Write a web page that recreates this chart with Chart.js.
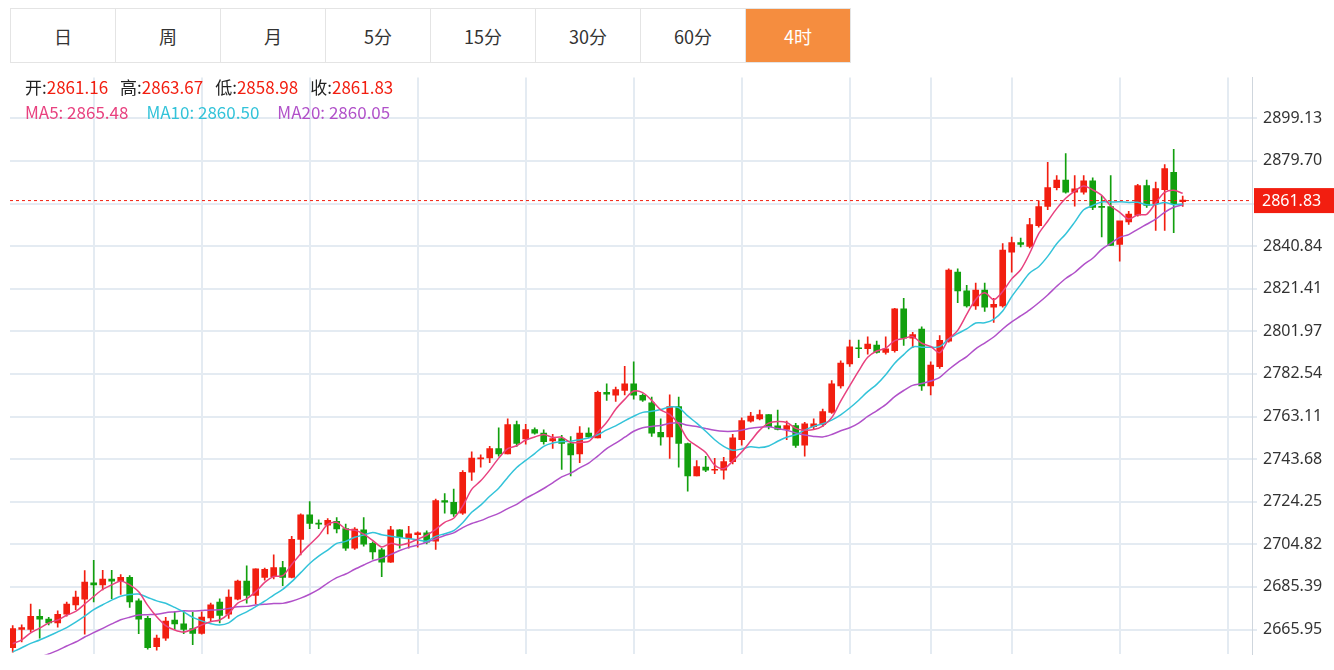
<!DOCTYPE html>
<html><head><meta charset="utf-8">
<script src="https://cdn.jsdelivr.net/npm/chart.js@4/dist/chart.umd.min.js"></script>
<style>
body{margin:0;width:1334px;height:670px;overflow:hidden;background:#fff;font-family:"Noto Sans CJK SC","Noto Sans",sans-serif;}
#tabs{position:absolute;left:10px;top:8px;height:53px;display:flex;border:1px solid #e4e4e4;border-right:none;}
#tabs div{width:104px;height:53px;border-right:1px solid #e4e4e4;display:flex;align-items:center;justify-content:center;font-size:18px;color:#333;}
#tabs div.on{background:#f58d3f;color:#fff;}
#wrap{position:absolute;left:10px;top:62px;width:1324px;height:608px;}
#info{position:absolute;left:25px;top:74px;font-size:17px;line-height:25px;color:#222;}
#info .v{color:#f21e10;margin-right:12px;}
</style></head><body>
<div id="tabs"></div>
<div id="wrap"><canvas id="c" width="1324" height="608"></canvas></div>
<div id="info"></div>
<script>
const tabs=["日","周","月","5分","15分","30分","60分","4时"];
const activeTab="4时";
const opens=[2657.7,2666.0,2666.0,2672.0,2670.7,2669.0,2672.9,2677.2,2679.8,2687.2,2686.3,2688.9,2688.0,2689.8,2679.0,2671.0,2658.1,2662.0,2670.2,2668.5,2666.4,2664.2,2671.2,2678.5,2672.9,2679.8,2688.0,2681.5,2689.7,2690.0,2694.2,2689.7,2707.0,2718.3,2714.4,2713.5,2715.3,2712.0,2703.1,2711.4,2705.3,2702.3,2696.7,2711.4,2707.5,2709.2,2710.1,2706.2,2724.8,2724.0,2719.0,2737.7,2743.8,2744.2,2748.5,2746.0,2759.4,2752.9,2757.2,2755.5,2752.0,2753.0,2750.8,2746.0,2755.5,2753.4,2774.1,2772.8,2775.0,2778.0,2772.8,2769.3,2755.9,2753.8,2767.6,2750.8,2736.0,2740.0,2738.6,2738.6,2742.5,2752.5,2761.0,2762.0,2764.0,2758.9,2757.2,2759.0,2750.0,2758.5,2759.4,2765.0,2777.1,2787.1,2794.4,2794.0,2795.7,2792.3,2793.1,2812.2,2798.8,2803.0,2777.1,2785.8,2797.5,2829.0,2820.4,2813.5,2820.8,2813.0,2813.5,2838.1,2842.4,2840.7,2850.2,2858.9,2867.5,2871.0,2865.4,2865.4,2870.6,2859.0,2858.9,2841.6,2851.9,2855.0,2868.4,2860.2,2866.6,2874.5,2861.16];
const highs=[2667.7,2668.1,2677.6,2675.0,2671.5,2674.5,2678.5,2683.5,2692.8,2697.5,2693.0,2693.0,2691.0,2690.5,2680.0,2672.0,2663.4,2671.5,2674.0,2674.5,2673.8,2674.0,2678.0,2680.0,2684.0,2688.5,2695.0,2693.6,2694.0,2700.0,2697.0,2708.5,2718.7,2724.3,2716.0,2716.6,2717.0,2714.0,2712.5,2717.0,2706.0,2703.0,2713.0,2711.5,2713.0,2710.5,2711.0,2725.5,2728.0,2730.0,2738.5,2747.0,2745.6,2749.5,2758.0,2762.0,2761.0,2759.5,2758.0,2757.0,2755.0,2754.5,2754.0,2758.5,2758.0,2774.7,2778.0,2776.5,2786.0,2788.0,2773.5,2772.0,2762.0,2773.0,2772.0,2751.0,2743.0,2745.0,2744.0,2744.5,2755.0,2762.5,2765.0,2766.0,2764.0,2766.0,2761.0,2760.0,2760.5,2762.0,2766.5,2779.5,2788.5,2798.0,2798.0,2799.5,2797.5,2799.5,2812.5,2817.0,2801.5,2804.0,2788.0,2800.0,2830.5,2830.5,2823.0,2824.0,2824.0,2817.0,2842.0,2845.0,2844.5,2853.5,2861.5,2879.0,2873.0,2883.0,2873.0,2873.0,2872.0,2863.5,2873.0,2848.0,2856.7,2869.0,2871.0,2870.0,2878.0,2885.0,2863.67];
const lows=[2655.6,2660.3,2664.7,2662.0,2668.0,2667.0,2672.0,2675.0,2663.8,2678.5,2684.0,2680.0,2682.0,2676.0,2664.0,2657.0,2656.5,2661.0,2666.0,2664.0,2659.0,2663.8,2670.0,2669.0,2671.0,2679.4,2678.0,2677.6,2688.5,2689.0,2686.0,2689.5,2700.0,2712.0,2712.0,2709.6,2710.0,2702.0,2702.5,2704.0,2698.0,2690.0,2696.5,2703.1,2703.0,2703.5,2705.0,2702.5,2719.0,2717.5,2718.5,2734.0,2740.0,2742.0,2745.0,2746.0,2749.5,2750.5,2755.0,2750.5,2748.5,2739.0,2736.0,2742.0,2753.5,2753.4,2770.5,2770.0,2773.0,2771.0,2770.0,2754.0,2750.0,2744.0,2740.0,2729.0,2736.0,2738.0,2737.0,2734.5,2741.5,2750.0,2760.5,2761.5,2757.5,2757.0,2752.5,2749.0,2745.0,2757.5,2758.5,2764.5,2776.0,2786.0,2790.0,2791.5,2792.0,2791.5,2792.5,2795.5,2794.5,2775.0,2773.0,2785.0,2797.0,2815.0,2813.0,2812.0,2811.0,2806.0,2813.0,2829.0,2840.5,2840.0,2849.5,2857.5,2866.5,2865.0,2859.0,2864.5,2857.5,2845.0,2841.2,2834.0,2850.7,2854.5,2858.5,2848.0,2848.0,2847.0,2858.98];
const closes=[2666.4,2666.8,2672.0,2670.7,2669.0,2672.9,2677.6,2680.7,2687.6,2686.3,2688.9,2688.0,2689.8,2678.5,2670.7,2657.7,2662.0,2669.8,2668.5,2666.0,2664.2,2671.6,2677.2,2672.4,2680.7,2688.0,2681.5,2693.6,2693.4,2694.2,2689.7,2707.1,2718.3,2714.4,2714.0,2715.7,2711.8,2703.1,2711.8,2704.9,2701.4,2696.7,2711.4,2707.9,2709.6,2710.1,2705.8,2724.8,2724.0,2718.7,2737.7,2744.2,2744.2,2748.5,2746.0,2759.4,2750.8,2757.2,2755.5,2751.6,2753.0,2750.8,2745.6,2755.5,2753.8,2774.1,2773.3,2775.4,2778.0,2772.8,2770.6,2755.5,2753.8,2767.6,2750.8,2736.0,2740.3,2738.6,2739.0,2742.5,2753.4,2761.3,2763.3,2764.0,2758.5,2757.2,2759.0,2749.9,2759.8,2759.8,2765.4,2778.0,2787.5,2794.9,2794.0,2796.2,2792.3,2794.0,2812.2,2798.8,2800.5,2777.1,2786.6,2797.9,2829.9,2820.4,2813.5,2820.8,2813.0,2814.3,2839.0,2842.4,2841.6,2850.6,2858.9,2867.5,2871.0,2865.4,2867.0,2870.6,2858.5,2858.5,2841.2,2852.4,2855.4,2868.4,2859.4,2867.1,2876.2,2860.2,2861.83];
const prevCloses=[2628,2632,2630,2636,2640,2638,2644,2642,2646,2650,2648,2652,2655,2651,2654,2658,2656,2660,2657];
const yTicks=[2665.95,2685.39,2704.82,2724.25,2743.68,2763.11,2782.54,2801.97,2821.41,2840.84,2860.27,2879.70,2899.13];
const shownTicks=[2665.95,2685.39,2704.82,2724.25,2743.68,2763.11,2782.54,2801.97,2821.41,2840.84,2879.70,2899.13];
const gridIdx=[3,15,27,39,51,63,75,87,99,105,117,129];
const maLegend=[["MA5",2865.48,"#e8417f"],["MA10",2860.50,"#33c3d9"],["MA20",2860.05,"#b151c9"]];

const UP="#f21e10", DOWN="#12a00e";
document.getElementById('tabs').innerHTML=tabs.map(t=>`<div class="${t===activeTab?'on':''}">${t}</div>`).join('');
const n=closes.length;
document.getElementById('info').innerHTML=
 `开:<span class="v">${opens[n-1].toFixed(2)}</span>高:<span class="v">${highs[n-1].toFixed(2)}</span>低:<span class="v">${lows[n-1].toFixed(2)}</span>收:<span class="v">${closes[n-1].toFixed(2)}</span><br>`+
 maLegend.map(m=>`<span style="color:${m[2]};margin-right:18px">${m[0]}:&nbsp;${m[1].toFixed(2)}</span>`).join('');
const all=prevCloses.concat(closes);
function ma(p){return closes.map((c,i)=>{const j=i+prevCloses.length;let s=0;for(let k=j-p+1;k<=j;k++)s+=all[k];return {x:i,y:s/p};});}
const cols=closes.map((c,i)=>c>=opens[i]?UP:DOWN);
const bodies=closes.map((c,i)=>({x:i,y:[opens[i],c]}));
const wicks=closes.map((c,i)=>({x:i,y:[lows[i],highs[i]]}));
const lastLine={id:'last',afterDatasetsDraw(ch){
 const y=ch.scales.y.getPixelForValue(closes[n-1]);const a=ch.chartArea;const g=ch.ctx;
 g.save();g.strokeStyle=UP;g.setLineDash([3,3]);g.lineWidth=1;g.beginPath();g.moveTo(a.left,y+0.5);g.lineTo(a.right,y+0.5);g.stroke();
 g.setLineDash([]);g.fillStyle=UP;g.fillRect(a.right+2,y-12,ch.width-a.right-2,25);
 g.fillStyle="#fff";g.font="16px 'Noto Sans','DejaVu Sans',sans-serif";g.textBaseline="middle";g.fillText(closes[n-1].toFixed(2),a.right+10,y+1);g.restore();}};
const line=(d,c)=>({type:'line',data:d,borderColor:c,borderWidth:1.5,pointRadius:0,tension:0.3,fill:false});
new Chart(document.getElementById('c'),{
 type:'bar',
 data:{datasets:[
  line(ma(5),maLegend[0][2]),line(ma(10),maLegend[1][2]),line(ma(20),maLegend[2][2]),
  {data:wicks,backgroundColor:cols,barThickness:1,grouped:false,order:2},
  {data:bodies,backgroundColor:cols,barThickness:6,grouped:false,minBarLength:1,order:1}
 ]},
 plugins:[lastLine],
 options:{responsive:false,animation:false,devicePixelRatio:1,
  layout:{padding:0},
  plugins:{legend:{display:false},tooltip:{enabled:false}},
  scales:{
   x:{type:'linear',min:-0.3,max:137.7,offset:false,
      afterBuildTicks(s){s.ticks=gridIdx.map(v=>({value:v}));},
      afterFit(s){s.height=0;},
      ticks:{display:false},border:{display:false},
      grid:{color:"#e4ebf2",lineWidth:2,drawTicks:false}},
   y:{position:'right',min:2654.6,max:2917.7,
      afterBuildTicks(s){s.ticks=yTicks.map(v=>({value:v}));},
      afterFit(s){s.width=82;},
      border:{color:"#cfd6dd"},
      grid:{color:"#e4ebf2",lineWidth:2,tickLength:5},
      ticks:{color:"#333",font:{size:16,family:"'Noto Sans','DejaVu Sans',sans-serif"},padding:6,
        callback:v=>shownTicks.includes(v)?v.toFixed(2):''}}
  }}
});
</script>
</body></html>
